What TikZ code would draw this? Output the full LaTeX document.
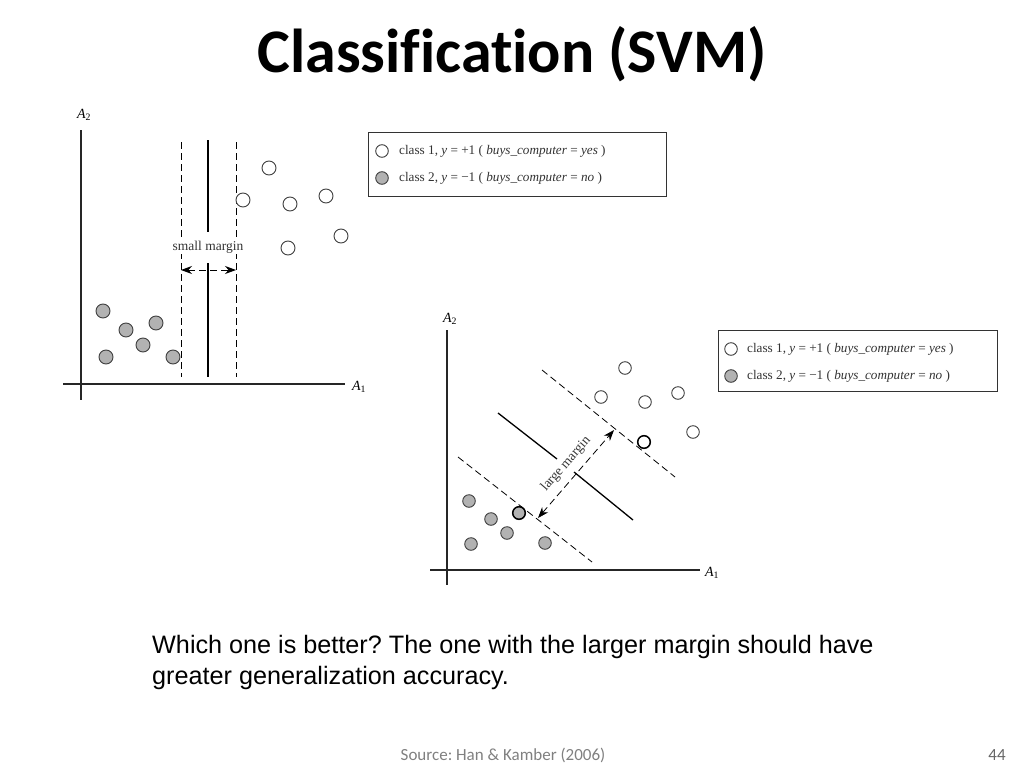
\documentclass[tikz,border=0pt]{standalone}
\usepackage{fontspec}
\setmainfont{Liberation Serif}
\newfontfamily\calibri[Ligatures=NoCommon]{Carlito}
\newfontfamily\arial{Liberation Sans}
\usetikzlibrary{arrows.meta}
\frenchspacing
\tikzset{>={Stealth[length=11pt, width=8pt]}}
\tikzset{
    posdot/.style={draw=black!75, fill=white, line width=0.9pt},
    negdot/.style={draw=black!75, fill=black!30, line width=0.9pt},
    legendbox/.style={draw=black!80, fill=white, line width=0.9pt},
    dashline/.style={dash pattern=on 7pt off 4pt, line width=0.8pt},
    axis/.style={line width=1.2pt, color=black!85},
    leg/.style={anchor=west, inner sep=0pt, font=\fontsize{13.2}{15}\selectfont, text=black!80},
    marginlabel/.style={fill=white, inner sep=1pt, font=\fontsize{13.5}{15}\selectfont, text=black!80},
}

\begin{document}
\begin{tikzpicture}[x=1pt, y=-1pt]
    \useasboundingbox (0,0) rectangle (1024,768);
    \def\r{7};
    \def\rr{6.3};

    \node[anchor=base, font=\calibri\bfseries\fontsize{62}{70}\selectfont] (title) at (512,72) {Classification (SVM)};

    % left plot: small margin
    \draw[axis] (81,130) -- (81,400);
    \draw[axis] (63,384) -- (345,384);
    \node[font=\fontsize{14}{16}\selectfont] (atwo) at (84,115) {\textit{A}\textsubscript{2}};
    \node[font=\fontsize{14}{16}\selectfont] (aone) at (359,387) {\textit{A}\textsubscript{1}};

    \draw[dashline] (181,142) -- (181,377);
    \draw[dashline] (236,142) -- (236,377);
    \draw[line width=2.4pt] (208,140) -- (208,232);
    \draw[line width=2.4pt] (208,263) -- (208,377);
    \node[marginlabel] (small) at (208,247) {small margin};
    \draw[<->, dashline] (181,270) -- (236,270);

    \draw[posdot] (269,168) circle(\r);
    \draw[posdot] (243,200) circle(\r);
    \draw[posdot] (290,204) circle(\r);
    \draw[posdot] (326,196) circle(\r);
    \draw[posdot] (341,236) circle(\r);
    \draw[posdot] (288,248) circle(\r);

    \draw[negdot] (103,311) circle(\r);
    \draw[negdot] (126,330) circle(\r);
    \draw[negdot] (156,323) circle(\r);
    \draw[negdot] (143,345) circle(\r);
    \draw[negdot] (106,357) circle(\r);
    \draw[negdot] (173,357) circle(\r);

    % legend, top
    \draw[legendbox] (368,132) rectangle (666,196);
    \draw[posdot] (382,151) circle(\rr);
    \draw[negdot] (382,178) circle(\rr);
    \node[leg] (lega) at (399,151) {class 1, \textit{y} = +1 ( \textit{buys\_computer} = \textit{yes} )};
    \node[leg] (legb) at (399,178) {class 2, \textit{y} = −1 ( \textit{buys\_computer} = \textit{no} )};

    % right plot: large margin
    \draw[axis] (447,330) -- (447,585);
    \draw[axis] (430,570) -- (700,570);
    \node[font=\fontsize{14}{16}\selectfont] (btwo) at (450,319) {\textit{A}\textsubscript{2}};
    \node[font=\fontsize{14}{16}\selectfont] (bone) at (712,573) {\textit{A}\textsubscript{1}};

    \draw[dashline] (542,370) -- (675,477);
    \draw[dashline] (458,457) -- (592,562);
    \draw[line width=1.3pt] (498,413) -- (557,459);
    \draw[line width=1.3pt] (574,472) -- (633,520);
    \draw[<->, dashline] (538,518) -- (614,430);
    \node[marginlabel, rotate=49] (large) at (566,464) {large margin};

    \draw[posdot] (625,368) circle(\rr);
    \draw[posdot] (601,397) circle(\rr);
    \draw[posdot] (645,402) circle(\rr);
    \draw[posdot] (678,393) circle(\rr);
    \draw[posdot] (693,432) circle(\rr);
    \draw[posdot, line width=1.5pt, draw=black] (644,442) circle(\rr);

    \draw[negdot] (469,501) circle(\rr);
    \draw[negdot] (491,519) circle(\rr);
    \draw[negdot, line width=1.5pt, draw=black] (519,513) circle(\rr);
    \draw[negdot] (507,533) circle(\rr);
    \draw[negdot] (471,544) circle(\rr);
    \draw[negdot] (545,543) circle(\rr);

    % legend, right
    \draw[legendbox] (718,330) rectangle (997,391);
    \draw[posdot] (731,349) circle(\rr);
    \draw[negdot] (731,376) circle(\rr);
    \node[leg] (legc) at (747,349) {class 1, \textit{y} = +1 ( \textit{buys\_computer} = \textit{yes} )};
    \node[leg] (legd) at (747,376) {class 2, \textit{y} = −1 ( \textit{buys\_computer} = \textit{no} )};

    \node[anchor=base west, align=left, inner sep=0pt, font=\arial\fontsize{25.2}{31}\selectfont] (question) at (152,684)
        {Which one is better? The one with the larger margin should have\\greater generalization accuracy.};

    \node[font=\calibri\fontsize{17}{19}\selectfont, text=black!50] (source) at (503,755) {Source: Han \& Kamber (2006)};
    \node[font=\calibri\fontsize{17}{19}\selectfont, text=black!60] (page) at (997,755) {44};
\end{tikzpicture}
\end{document}
